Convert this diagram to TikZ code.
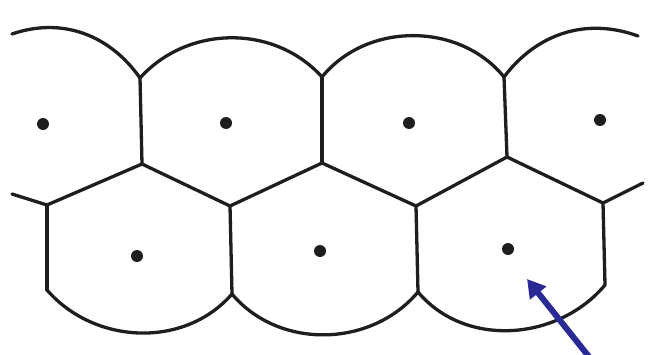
\documentclass[tikz,border=0pt]{standalone}
\usetikzlibrary{arrows.meta}
\definecolor{arrowblue}{RGB}{42,42,150}
\definecolor{ink}{RGB}{30,30,30}
\begin{document}
\begin{tikzpicture}[x=1pt,y=1pt,
  cell/.style={line width=3.3pt, line cap=round, line join=round, draw=ink},
  seed/.style={fill=ink, circle, inner sep=0pt, minimum size=12pt},
  pointer/.style={draw=arrowblue, line width=6pt, -{Triangle[length=18pt,width=20pt]}}]
\useasboundingbox[fill=white] (0,0) rectangle (663,354);
% top junctions and arc ends
\coordinate (a0) at (12,320);
\coordinate (t1) at (140,276);
\coordinate (t2) at (322,277);
\coordinate (t3) at (504,277);
\coordinate (a4) at (638,318);
% middle junctions
\coordinate (m1) at (142,190);
\coordinate (m2) at (322,191);
\coordinate (m3) at (507,197);
% lower junctions
\coordinate (s0) at (12,160);
\coordinate (b0) at (47,149);
\coordinate (b1) at (230,148);
\coordinate (b2) at (416,148);
\coordinate (b3) at (603,151);
\coordinate (s4) at (643,171);
% bottom arc ends
\coordinate (e0) at (47,64);
\coordinate (e1) at (232,60);
\coordinate (e2) at (418,62);
\coordinate (e3) at (605,69);
% top arcs
\draw[cell] (a0) to[out=19,in=125] (t1)
                 to[out=48,in=132] (t2)
                 to[out=51,in=129] (t3)
                 to[out=53,in=160] (a4);
% top verticals
\draw[cell] (t1) -- (m1);
\draw[cell] (t2) -- (m2);
\draw[cell] (t3) -- (m3);
% zigzag
\draw[cell] (s0) -- (b0) -- (m1) -- (b1) -- (m2) -- (b2) -- (m3) -- (b3) -- (s4);
% bottom verticals
\draw[cell] (b0) -- (e0);
\draw[cell] (b1) -- (e1);
\draw[cell] (b2) -- (e2);
\draw[cell] (b3) -- (e3);
% bottom arcs
\draw[cell] (e0) to[out=-49,in=-131] (e1)
                 to[out=-50,in=-130] (e2)
                 to[out=-50,in=-130] (e3);
% seeds
\node[seed] (p1) at (43,230) {};
\node[seed] (p2) at (226,231) {};
\node[seed] (p3) at (409,231) {};
\node[seed] (p4) at (600,234) {};
\node[seed] (p5) at (137,98) {};
\node[seed] (p6) at (320,103) {};
\node[seed] (p7) at (508,105) {};
% arrow
\coordinate (tail) at (590,-4);
\coordinate (tip) at (527,75);
\draw[pointer] (tail) -- (tip);
\end{tikzpicture}
\end{document}
